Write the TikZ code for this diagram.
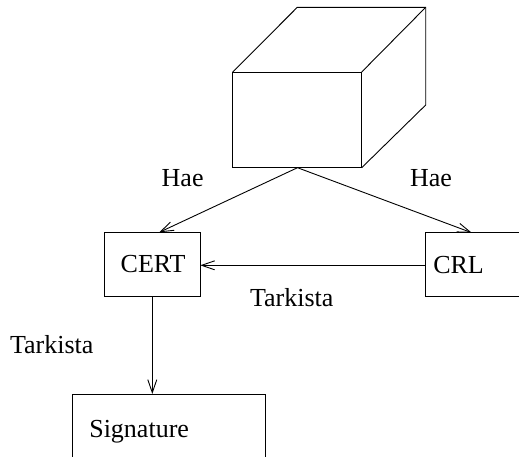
\documentclass[tikz,border=0pt]{standalone}
\usepackage{fontspec}
\setmainfont{Liberation Serif}
\usetikzlibrary{arrows.meta}
\begin{document}
\begin{tikzpicture}[x=1pt,y=-1pt,
  every node/.style={inner sep=0pt,outer sep=0pt},
  line/.style={draw=black,line width=0.9pt},
  box/.style={line,rectangle,anchor=north west},
  lbl/.style={anchor=base west,font=\fontsize{26}{30}\selectfont},
  arr/.style={line,-{Straight Barb[length=13pt,width=9pt,line width=0.9pt]}}]
\useasboundingbox (0,0) rectangle (519,456);
\clip (0,0) rectangle (519,456);

% cube: front face plus the receding edges
\node[box,minimum width=129pt,minimum height=95.7pt] (front) at (232.7,72) {};
\coordinate (bl) at (297.3,7.3);
\coordinate (br) at (425.7,7.3);
\coordinate (bb) at (425.7,105);
\draw[line] (front.north west) -- (bl) -- (br) -- (bb) -- (front.south east);
\draw[line] (front.north east) -- (br);
\coordinate (src) at (297.5,167.7);

% boxes
\node[box,minimum width=96.3pt,minimum height=64.4pt] (cert) at (104,232.3) {};
\node[box,minimum width=200pt,minimum height=64pt] (crl) at (425.7,232.7) {};
\node[box,minimum width=193pt,minimum height=80pt] (sig) at (72.7,394) {};

% box texts
\node[lbl] (certtxt) at (120.7,272.3) {CERT};
\node[lbl] (crltxt) at (433.3,273.3) {CRL};
\node[lbl] (sigtxt) at (89.3,437.3) {Signature};

% connector labels
\node[lbl] (hae1) at (161.7,186) {Hae};
\node[lbl] (hae2) at (410,186) {Hae};
\node[lbl] (tark1) at (250,306) {Tarkista};
\node[lbl] (tark2) at (10,353.3) {Tarkista};

% connectors
\coordinate (certin) at (159.3,232.3);
\coordinate (crlin) at (471.7,232.7);
\coordinate (certout) at (152.3,296.7);
\draw[arr] (src) -- (certin);
\draw[arr] (src) -- (crlin);
\draw[arr] (crl.west |- 0,265.3) -- (cert.east |- 0,265.3);
\draw[arr] (certout) -- (certout |- sig.north);
\end{tikzpicture}
\end{document}
